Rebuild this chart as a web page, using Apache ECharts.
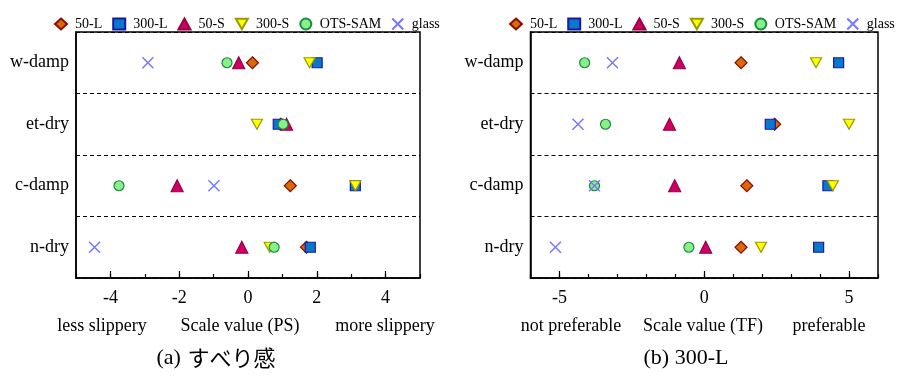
<!DOCTYPE html>
<html>
<head>
<meta charset="utf-8">
<script src="https://cdn.jsdelivr.net/npm/echarts@6/dist/echarts.min.js"></script>
<style>html,body{margin:0;padding:0;background:#fff}#c{width:897px;height:390px}</style>
</head>
<body>
<div id="c"></div>
<script>
// ---- data ----
const categories = ['n-dry', 'c-damp', 'et-dry', 'w-damp']; // bottom to top
const seriesNames = ['50-L', '300-L', '50-S', '300-S', 'OTS-SAM', 'glass'];
// Panel (a) PS scale values, ordered as categories
const ps_50L   = [1.70, 1.23, 0.95, 0.13];
const ps_300L  = [1.81, 3.12, 0.88, 2.01];
const ps_50S   = [-0.18, -2.06, 1.12, -0.27];
const ps_300S  = [0.63, 3.12, 0.26, 1.79];
const ps_OTS   = [0.76, -3.75, 1.02, -0.61];
const ps_glass = [-4.46, -0.99, null, -2.91];
// Panel (b) TF scale values
const tf_50L   = [1.27, 1.47, 2.43, 1.27];
const tf_300L  = [3.95, 4.27, 2.28, 4.64];
const tf_50S   = [0.05, -1.02, -1.20, -0.86];
const tf_300S  = [1.96, 4.44, 5.00, 3.86];
const tf_OTS   = [-0.53, -3.79, -3.41, -4.13];
const tf_glass = [-5.14, -3.79, -4.36, -3.17];
// tick labels
const psMajorTicks = [-4, -2, 0, 2, 4];
const tfMajorTicks = [-5, 0, 5];

const serif = 'Liberation Serif';
const styles = {
  '50-L':   {symbol: 'diamond', size: 12, color: '#d86a08', border: '#8b0a00'},
  '300-L':  {symbol: 'rect', size: 10, color: '#0a78c8', border: '#1818a8'},
  '50-S':   {symbol: 'triangle', size: 12, color: '#cc0066', border: '#99003c'},
  '300-S':  {symbol: 'path://M0,0L10,0L5,8.7Z', size: [11, 10], color: '#ffff00', border: '#9a9a00'},
  'OTS-SAM':{symbol: 'circle', size: 10, color: '#88f088', border: '#1a8a40'},
  'glass':  {symbol: 'path://M0,0L10,10M10,0L0,10', size: 11, color: '#7878ff', border: '#7878ff'}
};
const psData = [ps_50L, ps_300L, ps_50S, ps_300S, ps_OTS, ps_glass];
const tfData = [tf_50L, tf_300L, tf_50S, tf_300S, tf_OTS, tf_glass];

function mkSeries(vals, xi, yi) {
  return seriesNames.map((n, k) => {
    const s = styles[n];
    return {
      name: n, type: 'scatter', xAxisIndex: xi, yAxisIndex: yi,
      symbol: s.symbol, symbolSize: s.size, z: 2 + k,
      itemStyle: {color: s.color, borderColor: s.border, borderWidth: n === 'glass' ? 1.5 : 1.2, opacity: 1},
      emphasis: {disabled: true},
      data: vals[k].map((v, i) => v === null ? null : [v, categories[i]])
    };
  });
}

function majorAxis(grid, min, max, ticks) {
  return {
    type: 'value', gridIndex: grid, min: min, max: max, position: 'bottom',
    axisLine: {show: true, onZero: false, lineStyle: {color: '#000', width: 1.5}},
    axisTick: {show: true, inside: true, length: 7, customValues: ticks, lineStyle: {color: '#000', width: 1.2}},
    axisLabel: {customValues: ticks, color: '#000', fontFamily: serif, fontSize: 18, margin: 11},
    splitLine: {show: false}
  };
}
function minorAxis(grid, min, max) {
  return {
    type: 'value', gridIndex: grid, min: min, max: max, interval: 1, position: 'bottom',
    axisLine: {show: false, onZero: false},
    axisTick: {show: true, inside: true, length: 4, lineStyle: {color: '#000', width: 1.2}},
    axisLabel: {show: false}, splitLine: {show: false}
  };
}
function catAxis(grid) {
  return {
    type: 'category', gridIndex: grid, data: categories, position: 'left',
    axisLine: {show: true, onZero: false, lineStyle: {color: '#000', width: 1.5}},
    axisTick: {show: false},
    axisLabel: {color: '#000', fontFamily: serif, fontSize: 18, margin: 7},
    splitLine: {show: true, lineStyle: {color: '#000', type: [4, 3], width: 1}}
  };
}
function legend(left) {
  return {
    left: left, top: 17, padding: 0, itemWidth: 12, itemHeight: 11, itemGap: 10,
    textStyle: {fontFamily: serif, fontSize: 14, color: '#000', padding: [0, 0, 0, 3]},
    data: seriesNames, selectedMode: false
  };
}
function txt(x, y, t, size) {
  return {type: 'text', x: x, y: y, style: {text: t, fill: '#000', font: (size || 18) + 'px "' + serif + '"', align: 'center', verticalAlign: 'middle'}};
}

const chart = echarts.init(document.getElementById('c'), null, {renderer: 'canvas'});
chart.setOption({
  animation: false,
  backgroundColor: '#fff',
  legend: [legend(54), legend(509)],
  grid: [
    {left: 76, top: 32, width: 344, height: 246, show: true, borderColor: '#000', borderWidth: 1.5, backgroundColor: 'transparent'},
    {left: 530.5, top: 32, width: 347.5, height: 246, show: true, borderColor: '#000', borderWidth: 1.5, backgroundColor: 'transparent'}
  ],
  xAxis: [majorAxis(0, -5, 5, psMajorTicks), minorAxis(0, -5, 5), majorAxis(1, -6, 6, tfMajorTicks), minorAxis(1, -6, 6)],
  yAxis: [catAxis(0), catAxis(1)],
  series: mkSeries(psData, 0, 0).concat(mkSeries(tfData, 2, 1)),
  graphic: [
    txt(102, 326, 'less slippery'), txt(240, 326, 'Scale value (PS)'), txt(385, 326, 'more slippery'),
    txt(571, 326, 'not preferable'), txt(703, 326, 'Scale value (TF)'), txt(829, 326, 'preferable'),
    {type: 'text', x: 216, y: 358, style: {
      text: '{a|(a)}  {j|すべり感}', align: 'center', verticalAlign: 'middle',
      rich: {a: {fontFamily: serif, fontSize: 22, fill: '#000'}, j: {fontFamily: 'Noto Sans CJK JP', fontSize: 22, fill: '#000'}}
    }},
    txt(686, 358, '(b) 300-L', 22)
  ]
});
</script>
</body>
</html>
